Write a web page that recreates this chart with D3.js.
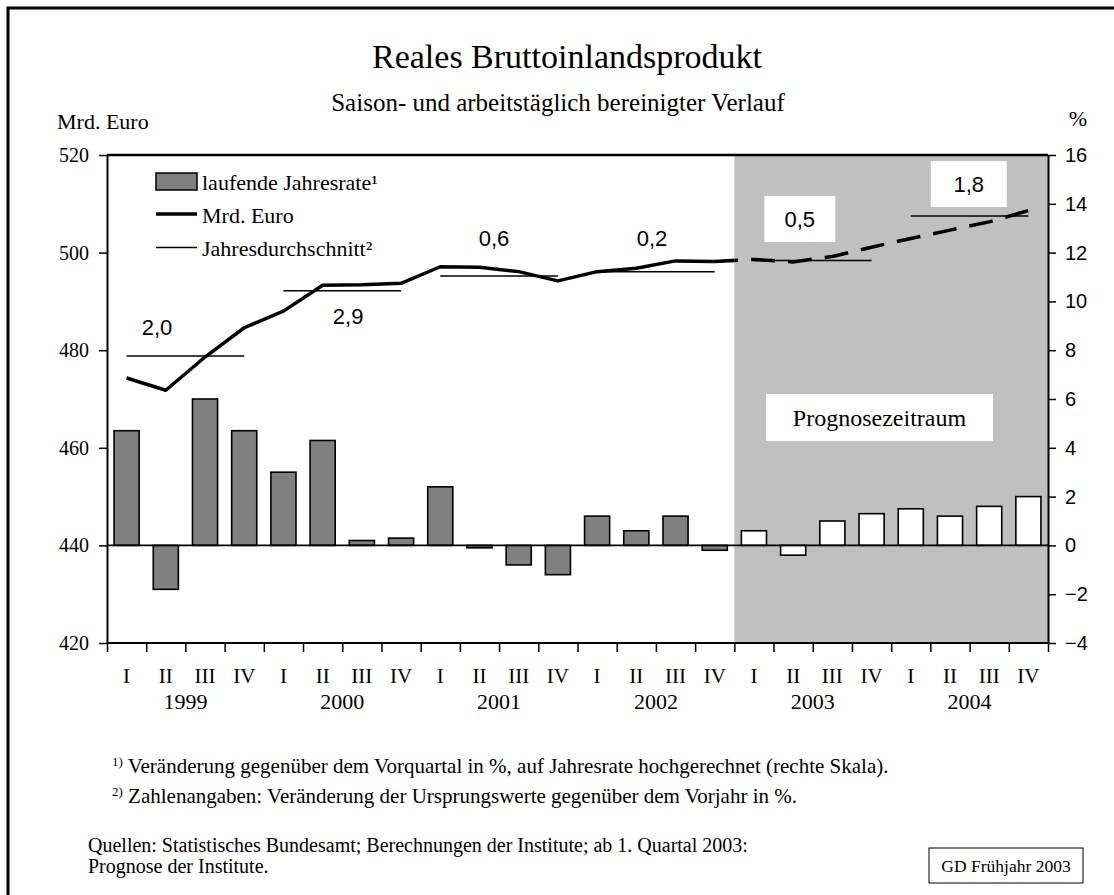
<!DOCTYPE html>
<html><head><meta charset="utf-8">
<script src="https://cdn.jsdelivr.net/npm/d3@7"></script>
<style>body{margin:0;background:#fff}svg{display:block}</style>
</head><body>
<script>
// ---- data ----
const quarters = ["I","II","III","IV","I","II","III","IV","I","II","III","IV","I","II","III","IV","I","II","III","IV","I","II","III","IV"];
const years = ["1999","2000","2001","2002","2003","2004"];
const bipLevel = [474.3, 471.8, 478.6, 484.6, 488.0, 493.3, 493.4, 493.7, 497.1, 497.0, 496.1, 494.2, 496.1, 496.8, 498.3, 498.2, 498.6, 498.1, 499.2, 501.1, 502.9, 504.6, 506.3, 508.6];
const growthRate = [4.7, -1.8, 6.0, 4.7, 3.0, 4.3, 0.2, 0.3, 2.4, -0.1, -0.8, -1.2, 1.2, 0.6, 1.2, -0.2, 0.6, -0.4, 1.0, 1.3, 1.5, 1.2, 1.6, 2.0];
const annualAvg = [478.8, 492.2, 495.2, 496.1, 498.4, 507.5];
const annualLabel = ["2,0","2,9","0,6","0,2","0,5","1,8"];
const leftTicks = [420, 440, 460, 480, 500, 520];
const rightTicks = [-4, -2, 0, 2, 4, 6, 8, 10, 12, 14, 16];
const forecastStart = 16; // index of first forecast quarter

// ---- layout ----
const W = 1114, H = 895;
const L = 107, R = 1048, T = 155, B = 643;
// annotation placement in (quarter position, left-scale value)
const labelAt = [[1.275, 484.7],[6.15, 487.0],[9.87, 503.0],[13.9, 503.0],[17.67, 506.9],[21.98, 514.05]];
const labelBox = [null,null,null,null,[71,46],[76,46]];

const serif = "'Liberation Serif','Times New Roman',serif";
const sans = "'Liberation Sans',Arial,sans-serif";

const svg = d3.select("body").append("svg").attr("width", W).attr("height", H);

// outer frame
svg.append("rect").attr("x", 8).attr("y", 8).attr("width", W + 10).attr("height", H + 10)
  .attr("fill", "none").attr("stroke", "#000").attr("stroke-width", 3);

const n = quarters.length;
const xq = d3.scaleLinear().domain([0, n]).range([L, R]);
const xb = d3.scaleBand().domain(d3.range(n)).range([L, R]).paddingInner(0.36).paddingOuter(0.18);
const yL = d3.scaleLinear().domain([420, 520]).range([B, T]);
const yR = d3.scaleLinear().domain([-4, 16]).range([B, T]);

// forecast shading
svg.append("rect").attr("x", xq(forecastStart)).attr("y", T).attr("width", xq(n) - xq(forecastStart)).attr("height", B - T)
  .attr("fill", "#c0c0c0");

// bars
svg.append("g").selectAll("rect").data(growthRate).join("rect")
  .attr("x", (d, i) => xb(i)).attr("width", xb.bandwidth())
  .attr("y", d => yR(Math.max(0, d))).attr("height", d => Math.abs(yR(d) - yR(0)))
  .attr("fill", (d, i) => i >= forecastStart ? "#fff" : "#808080")
  .attr("stroke", "#000").attr("stroke-width", 1.6);

// zero line
svg.append("line").attr("x1", L).attr("x2", R).attr("y1", yR(0)).attr("y2", yR(0))
  .attr("stroke", "#000").attr("stroke-width", 1.6);

// annual average lines
svg.append("g").selectAll("line").data(annualAvg).join("line")
  .attr("x1", (d, i) => xq(i * 4 + 0.5)).attr("x2", (d, i) => xq(i * 4 + 3.5))
  .attr("y1", d => yL(d)).attr("y2", d => yL(d))
  .attr("stroke", "#000").attr("stroke-width", 1.5);

// level line: solid before forecast, dashed in forecast
const defs = svg.append("defs");
defs.append("clipPath").attr("id", "past").append("rect")
  .attr("x", 0).attr("y", 0).attr("width", xq(forecastStart)).attr("height", H);
defs.append("clipPath").attr("id", "fut").append("rect")
  .attr("x", xq(forecastStart)).attr("y", 0).attr("width", W).attr("height", H);
const line = d3.line().x((d, i) => xq(i + 0.5)).y(d => yL(d));
svg.append("path").attr("d", line(bipLevel)).attr("clip-path", "url(#past)")
  .attr("fill", "none").attr("stroke", "#000").attr("stroke-width", 3.5).attr("stroke-linejoin", "round");
svg.append("path").attr("d", line(bipLevel)).attr("clip-path", "url(#fut)")
  .attr("fill", "none").attr("stroke", "#000").attr("stroke-width", 3.5)
  .attr("stroke-dasharray", "24,13").attr("stroke-dashoffset", 0);

// annual labels
annualLabel.forEach((t, i) => {
  const cx = xq(labelAt[i][0]), cy = yL(labelAt[i][1]);
  if (labelBox[i]) {
    svg.append("rect").attr("x", cx - labelBox[i][0] / 2).attr("y", cy - labelBox[i][1] / 2)
      .attr("width", labelBox[i][0]).attr("height", labelBox[i][1]).attr("fill", "#fff");
  }
  svg.append("text").attr("x", cx).attr("y", cy).attr("dy", "0.36em").attr("text-anchor", "middle")
    .attr("font-family", sans).attr("font-size", 22).text(t);
});

// Prognosezeitraum box
svg.append("rect").attr("x", 766).attr("y", 394).attr("width", 227).attr("height", 47).attr("fill", "#fff");
svg.append("text").attr("x", 879.5).attr("y", 418).attr("dy", "0.33em").attr("text-anchor", "middle")
  .attr("font-family", serif).attr("font-size", 24).text("Prognosezeitraum");

// axes frame
svg.append("line").attr("x1", L).attr("x2", R).attr("y1", T).attr("y2", T).attr("stroke", "#000").attr("stroke-width", 2.5);
svg.append("line").attr("x1", L).attr("x2", R).attr("y1", B).attr("y2", B).attr("stroke", "#000").attr("stroke-width", 2);

const axL = svg.append("g").attr("transform", `translate(${L},0)`)
  .call(d3.axisLeft(yL).tickValues(leftTicks).tickSize(8).tickSizeOuter(0).tickPadding(10));
axL.select(".domain").attr("stroke-width", 2);
axL.selectAll(".tick line").attr("stroke-width", 1.5);
axL.selectAll("text").attr("font-family", serif).attr("font-size", 20).attr("fill", "#000");

const axR = svg.append("g").attr("transform", `translate(${R},0)`)
  .call(d3.axisRight(yR).tickValues(rightTicks).tickSize(8).tickSizeOuter(0).tickPadding(9));
axR.select(".domain").attr("stroke-width", 2);
axR.selectAll(".tick line").attr("stroke-width", 1.5);
axR.selectAll("text").attr("font-family", sans).attr("font-size", 20).attr("fill", "#000");

// x ticks at quarter boundaries
const axB = svg.append("g").attr("transform", `translate(0,${B})`)
  .call(d3.axisBottom(xq).tickValues(d3.range(0, n + 1)).tickSize(9).tickFormat(""));
axB.select(".domain").remove();
axB.selectAll(".tick line").attr("stroke-width", 1.5);

// quarter labels
svg.append("g").selectAll("text").data(quarters).join("text")
  .attr("x", (d, i) => xq(i + 0.5)).attr("y", 683).attr("text-anchor", "middle")
  .attr("font-family", serif).attr("font-size", 21).text(d => d);
svg.append("g").selectAll("text").data(years).join("text")
  .attr("x", (d, i) => xq(i * 4 + 2)).attr("y", 709).attr("text-anchor", "middle")
  .attr("font-family", serif).attr("font-size", 22).text(d => d);

// titles
svg.append("text").attr("x", 567).attr("y", 68).attr("text-anchor", "middle")
  .attr("font-family", serif).attr("font-size", 34).text("Reales Bruttoinlandsprodukt");
svg.append("text").attr("x", 558).attr("y", 111).attr("text-anchor", "middle")
  .attr("font-family", serif).attr("font-size", 25).text("Saison- und arbeitstäglich bereinigter Verlauf");
svg.append("text").attr("x", 57).attr("y", 129)
  .attr("font-family", serif).attr("font-size", 22).text("Mrd. Euro");
svg.append("text").attr("x", 1078).attr("y", 126).attr("text-anchor", "middle")
  .attr("font-family", serif).attr("font-size", 22).text("%");

// legend
const lg = svg.append("g");
lg.append("rect").attr("x", 156).attr("y", 173).attr("width", 41).attr("height", 17)
  .attr("fill", "#808080").attr("stroke", "#000").attr("stroke-width", 1.5);
lg.append("line").attr("x1", 156).attr("x2", 197).attr("y1", 214).attr("y2", 214).attr("stroke", "#000").attr("stroke-width", 3.5);
lg.append("line").attr("x1", 156).attr("x2", 197).attr("y1", 247.5).attr("y2", 247.5).attr("stroke", "#000").attr("stroke-width", 1.5);
const legTexts = ["laufende Jahresrate¹", "Mrd. Euro", "Jahresdurchschnitt²"];
lg.selectAll("text").data(legTexts).join("text")
  .attr("x", 202).attr("y", (d, i) => 189.5 + i * 33.3)
  .attr("font-family", serif).attr("font-size", 22).text(d => d);

// footnotes
const fn = svg.append("g").attr("font-family", serif).attr("fill", "#000");
const fn1 = fn.append("text").attr("x", 112).attr("y", 773).attr("font-size", 21);
fn1.append("tspan").attr("font-size", 13).attr("dy", -7).text("1)");
fn1.append("tspan").attr("dy", 7).text(" Veränderung gegenüber dem Vorquartal in %, auf Jahresrate hochgerechnet (rechte Skala).");
const fn2 = fn.append("text").attr("x", 112).attr("y", 803).attr("font-size", 21);
fn2.append("tspan").attr("font-size", 13).attr("dy", -7).text("2)");
fn2.append("tspan").attr("dy", 7).text(" Zahlenangaben: Veränderung der Ursprungswerte gegenüber dem Vorjahr in %.");
fn.append("text").attr("x", 88).attr("y", 852).attr("font-size", 20)
  .text("Quellen: Statistisches Bundesamt; Berechnungen der Institute; ab 1. Quartal 2003:");
fn.append("text").attr("x", 88).attr("y", 873).attr("font-size", 20).text("Prognose der Institute.");
svg.append("rect").attr("x", 929).attr("y", 848).attr("width", 154).attr("height", 35)
  .attr("fill", "#fff").attr("stroke", "#000").attr("stroke-width", 1);
svg.append("text").attr("x", 1006).attr("y", 872).attr("text-anchor", "middle")
  .attr("font-family", serif).attr("font-size", 17.5).text("GD Frühjahr 2003");
</script>
</body></html>
